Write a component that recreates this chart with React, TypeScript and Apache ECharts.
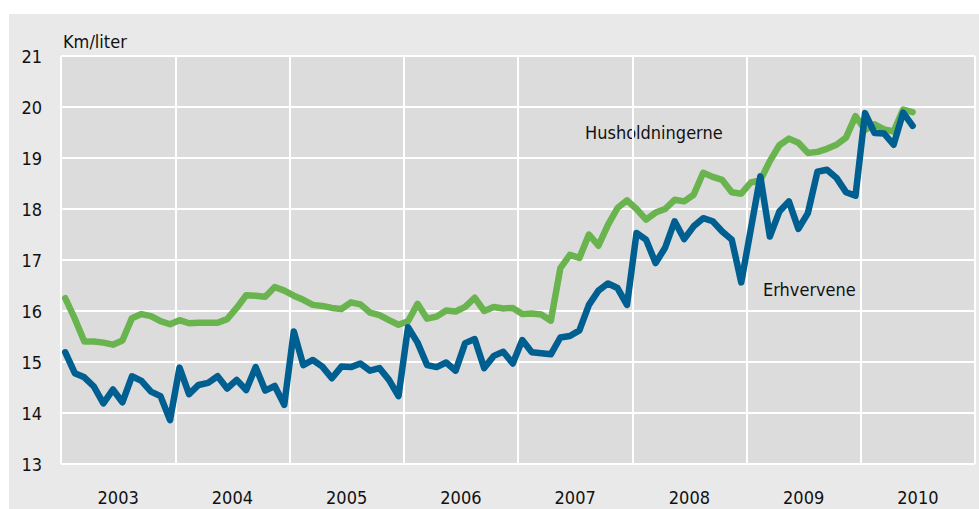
import React, { useEffect, useRef } from "react";
import * as echarts from "echarts";

// Year categories (x-axis labels)
const years = ["2003", "2004", "2005", "2006", "2007", "2008", "2009", "2010"];

// Monthly km/liter, Jan 2003 – Jun 2010
const husholdningerne = [
  16.25, 15.85, 15.4, 15.4, 15.38, 15.34, 15.42, 15.86, 15.94, 15.9, 15.8, 15.74,
  15.82, 15.76, 15.77, 15.77, 15.77, 15.84, 16.06, 16.31, 16.3, 16.28, 16.47, 16.4,
  16.3, 16.22, 16.12, 16.1, 16.06, 16.04, 16.17, 16.13, 15.97, 15.92, 15.82, 15.73,
  15.8, 16.14, 15.85, 15.89, 16.01, 15.99, 16.08, 16.26, 16.0, 16.08, 16.05, 16.06,
  15.94, 15.95, 15.93, 15.81, 16.84, 17.1, 17.04, 17.5, 17.28, 17.69, 18.02, 18.17,
  18.0, 17.79, 17.93, 18.0, 18.18, 18.15, 18.28, 18.71, 18.63, 18.57, 18.33, 18.3,
  18.52, 18.56, 18.94, 19.25, 19.38, 19.3, 19.1, 19.12, 19.18, 19.26, 19.4, 19.82,
  19.55, 19.66, 19.56, 19.52, 19.95, 19.9,
];

const erhvervene = [
  15.19, 14.78, 14.7, 14.52, 14.19, 14.46, 14.21, 14.72, 14.63, 14.42, 14.33, 13.86,
  14.89, 14.37, 14.55, 14.59, 14.72, 14.48, 14.65, 14.45, 14.9, 14.44, 14.53, 14.16,
  15.6, 14.94, 15.04, 14.91, 14.68, 14.91, 14.9, 14.97, 14.83, 14.88, 14.65, 14.33,
  15.68, 15.38, 14.94, 14.9, 14.99, 14.83, 15.37, 15.45, 14.88, 15.12, 15.2, 14.97,
  15.43, 15.19, 15.17, 15.15, 15.48, 15.51, 15.62, 16.12, 16.4, 16.54, 16.45, 16.12,
  17.53, 17.4, 16.94, 17.24, 17.76, 17.41, 17.66, 17.82, 17.76, 17.56, 17.4, 16.56,
  17.6, 18.64, 17.46, 17.95, 18.15, 17.61, 17.92, 18.73, 18.77, 18.61, 18.33, 18.26,
  19.88, 19.49, 19.48, 19.26, 19.89, 19.63,
];

const yMin = 13;
const yMax = 21;
const FONT = "'DejaVu Sans Condensed', 'Open Sans', sans-serif";
const FS = 18;
const TXT = "#111111";

export default function App() {
  const ref = useRef<HTMLDivElement>(null);

  useEffect(() => {
    if (!ref.current) return;
    const chart = echarts.init(ref.current, null, { renderer: "svg" });
    const toPts = (arr: number[]) => arr.map((v, i) => [i + 0.45, v]);

    chart.setOption({
      animation: false,
      backgroundColor: "#ffffff",
      graphic: [
        {
          type: "rect",
          z: -10,
          shape: { x: 9, y: 14, width: 970, height: 495 },
          style: { fill: "#e9e9e9" },
          silent: true,
        },
        {
          type: "text",
          left: 63,
          top: 32,
          style: { text: "Km/liter", font: `${FS}px ${FONT}`, fill: TXT },
        },
        {
          type: "text",
          left: 585,
          top: 123,
          style: { text: "Husholdningerne", font: `${FS}px ${FONT}`, fill: TXT },
        },
        {
          type: "text",
          left: 763,
          top: 280,
          style: { text: "Erhvervene", font: `${FS}px ${FONT}`, fill: TXT },
        },
      ],
      grid: {
        left: 61,
        top: 56,
        right: 4,
        bottom: 45,
        show: true,
        backgroundColor: "#dcdcdc",
        borderWidth: 0,
      },
      xAxis: [
        {
          type: "category",
          data: years,
          boundaryGap: true,
          axisLine: { show: false },
          axisTick: { show: false },
          axisLabel: { fontFamily: FONT, fontSize: FS, color: TXT, margin: 24 },
          splitLine: { show: true, lineStyle: { color: "#ffffff", width: 2 } },
        },
        {
          type: "value",
          min: 0,
          max: 96,
          show: false,
          splitLine: { show: false },
        },
      ],
      yAxis: {
        type: "value",
        min: yMin,
        max: yMax,
        interval: 1,
        axisLine: { show: false },
        axisTick: { show: false },
        axisLabel: { fontFamily: FONT, fontSize: FS, color: TXT, margin: 19 },
        splitLine: { show: true, lineStyle: { color: "#ffffff", width: 2 } },
      },
      series: [
        {
          name: "Husholdningerne",
          type: "line",
          xAxisIndex: 1,
          data: toPts(husholdningerne),
          showSymbol: false,
          symbol: "none",
          lineStyle: { color: "#6ab44f", width: 6.5, cap: "round", join: "round" },
        },
        {
          name: "Erhvervene",
          type: "line",
          xAxisIndex: 1,
          data: toPts(erhvervene),
          showSymbol: false,
          symbol: "none",
          lineStyle: { color: "#005f91", width: 6.5, cap: "round", join: "round" },
        },
      ],
    });
    return () => chart.dispose();
  }, []);

  return (
    <div
      ref={ref}
      style={{ position: "fixed", left: 0, top: 0, width: 979, height: 509 }}
    />
  );
}
